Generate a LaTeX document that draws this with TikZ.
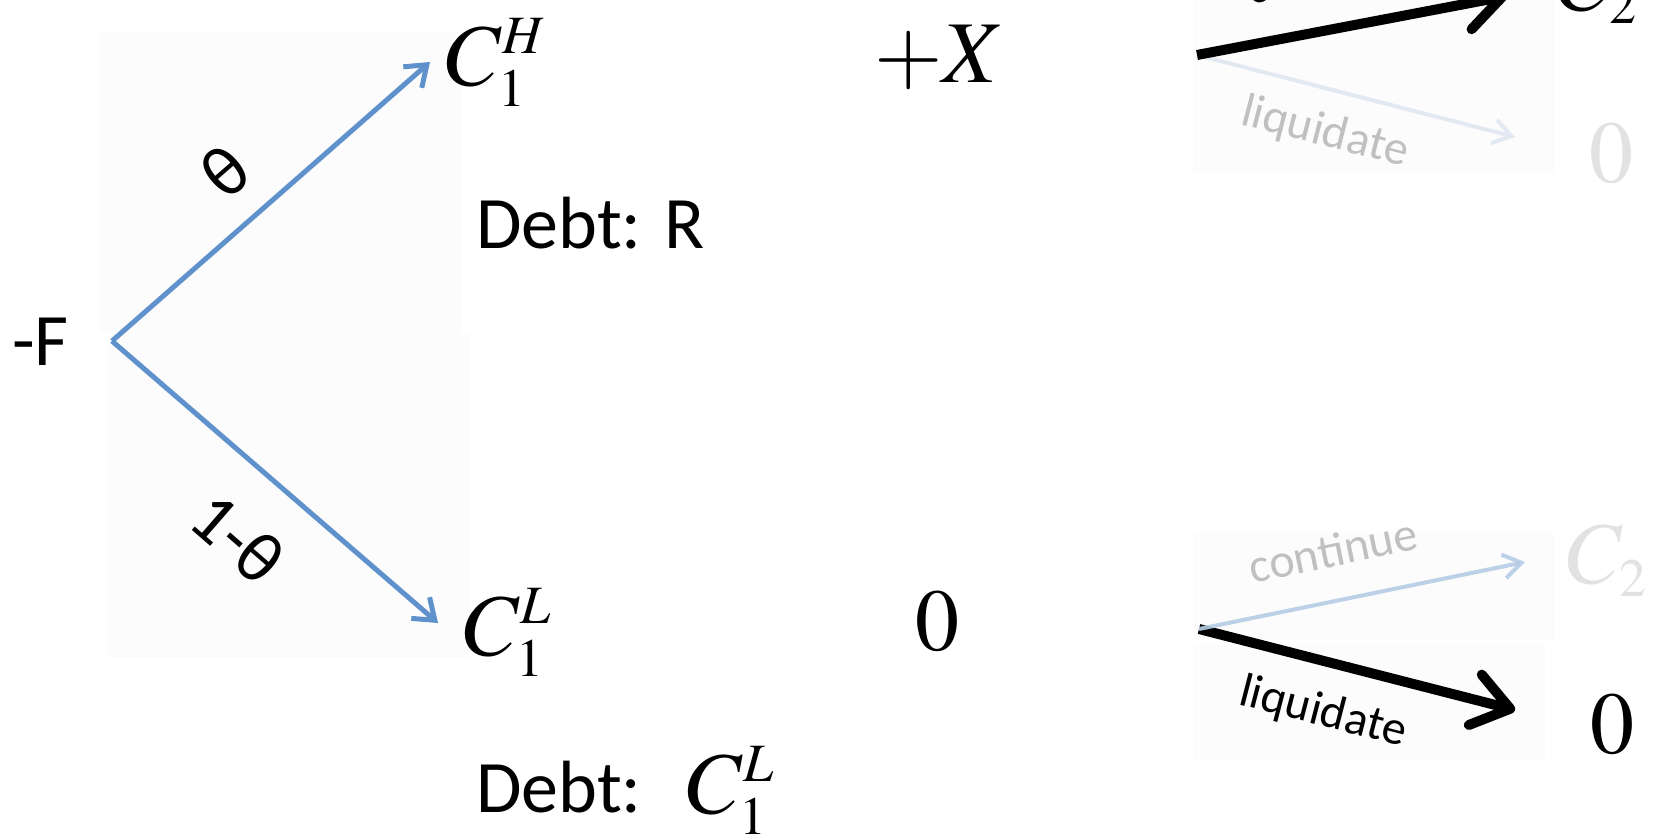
\documentclass[tikz,border=0pt]{standalone}
\usepackage{mathptmx}
\usepackage[no-math]{fontspec}
\setmainfont{Carlito}
\usetikzlibrary{arrows.meta}
\DeclareMathSizes{88}{88}{54}{40}
\definecolor{branchblue}{RGB}{95,146,204}
\definecolor{fadeblue}{RGB}{182,204,229}
\definecolor{paleblue}{RGB}{226,233,242}
\definecolor{fadetext}{RGB}{192,192,192}
\definecolor{fadenum}{RGB}{226,226,226}
\definecolor{panel}{RGB}{252,252,252}
\tikzset{
  mathlbl/.style={inner sep=0pt, font=\fontsize{88}{96}\selectfont},
  txt/.style={inner sep=0pt, font=\fontsize{74}{80}\selectfont},
  edgelbl/.style={inner sep=0pt, font=\fontsize{48}{52}\selectfont},
  problbl/.style={inner sep=0pt, font=\fontsize{72}{78}\selectfont},
  bluearrow/.style={draw=branchblue, line width=5pt, -{Straight Barb[length=19pt,width=28pt]}},
  heavyarrow/.style={draw=black, line width=10pt, -{Straight Barb[length=36pt,width=52pt,round]}},
  faintarrow/.style={line width=4pt, -{Straight Barb[length=18pt,width=24pt]}},
  bgpanel/.style={fill=panel, draw=none}
}
\begin{document}
\begin{tikzpicture}[x=1pt,y=-1pt]
\useasboundingbox (0,0) rectangle (1655,835);
\clip (0,0) rectangle (1655,835);
\fill[white] (0,0) rectangle (1655,835);
% faint background panels
\path[bgpanel] (100,32) rectangle (462,333);
\path[bgpanel] (108,333) rectangle (470,658);
\path[bgpanel] (1193,0) rectangle (1555,173);
\path[bgpanel] (1193,533) rectangle (1555,640);
\path[bgpanel] (1193,645) rectangle (1545,760);

% left tree
\node[txt, anchor=base west] (negF) at (12,365) {-F};
\coordinate (fork) at (112,341);
\node[mathlbl, anchor=base west] (c1h) at (446,85) {$C_1^H$};
\node[mathlbl, anchor=base west] (c1l) at (464,655) {$C_1^L$};
\coordinate (tipH) at (430,62);
\coordinate (tipL) at (438,623);
\draw[bluearrow] (fork) -- (tipH);
\draw[bluearrow] (fork) -- (tipL);
\node[problbl, rotate=41] (theta) at (225,172) {θ};
\node[problbl, rotate=-41] (omtheta) at (238,538) {1-θ};

\node[txt, anchor=base west] (debtR) at (476,248) {Debt: R};
\node[txt, anchor=base west] (debtL) at (476,812) {Debt:};
\node[mathlbl, anchor=base west] (debtLC) at (687,813) {$C_1^L$};

\node[mathlbl, anchor=base west] (plusX) at (874,82) {$+X$};
\node[mathlbl, anchor=base] (zeroMid) at (937,650) {$0$};

% right: high state
\coordinate (forkH) at (1197,55);
\node[mathlbl, anchor=base west] (c2top) at (1557,10) {$C_2$};
\node[mathlbl, anchor=base, text=fadenum] (zeroTop) at (1611,182) {$0$};
\coordinate (tipHc) at (1507,-4);
\coordinate (tipHl) at (1515,137);
\draw[faintarrow, draw=paleblue] (forkH) -- (tipHl);
\draw[heavyarrow] (forkH) -- (tipHc);
\node[edgelbl, rotate=11] (contTop) at (1331,-28) {continue};
\node[edgelbl, rotate=-14.5, text=fadetext] (liqTop) at (1325,133) {liquidate};

% right: low state
\coordinate (forkL) at (1199,629);
\node[mathlbl, anchor=base west, text=fadenum] (c2bot) at (1567,583) {$C_2$};
\node[mathlbl, anchor=base] (zeroBot) at (1612,753) {$0$};
\coordinate (tipLc) at (1525,562);
\coordinate (tipLl) at (1515,710);
\draw[heavyarrow] (forkL) -- (tipLl);
\draw[faintarrow, draw=fadeblue, opacity=0.9] (forkL) -- (tipLc);
\node[edgelbl, rotate=11.5, text=fadetext] (contBot) at (1333,550) {continue};
\node[edgelbl, rotate=-14.5] (liqBot) at (1323,713) {liquidate};
\end{tikzpicture}
\end{document}
